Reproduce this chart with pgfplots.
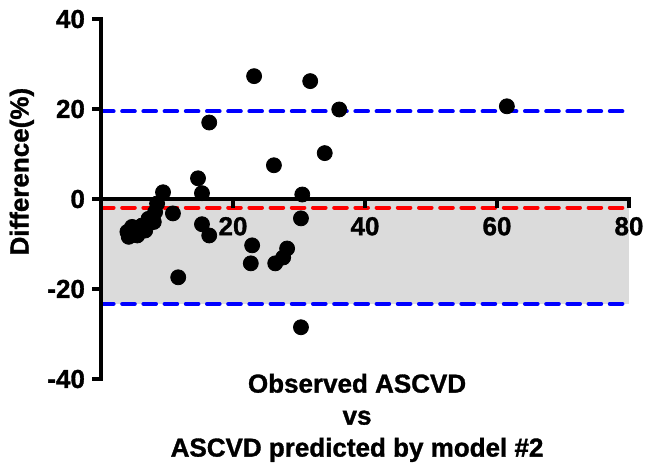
\documentclass[border=0pt]{standalone}
\usepackage{fontspec}
\setmainfont{Liberation Sans}[BoldFeatures={FakeBold=1.2}]
\usepackage{pgfplots}
\pgfplotsset{compat=1.18}
\pgfplotstableread{
x y
23.2 27.3
31.7 26.2
36.1 19.9
61.5 20.6
16.4 17.0
33.9 10.2
26.2 7.5
14.7 4.6
15.3 1.3
9.4 1.5
30.5 1.0
30.3 -4.3
10.9 -3.2
15.3 -5.6
16.4 -8.1
22.9 -10.3
22.7 -14.3
26.4 -14.3
27.6 -13.0
28.2 -11.0
11.7 -17.4
30.3 -28.5
8.5 -1.0
8.2 -2.9
7.2 -4.4
6.2 -5.9
4.7 -6.2
4.0 -7.3
4.2 -8.4
5.5 -8.1
6.7 -7.0
8.0 -5.1
}\pts
\begin{document}
\begin{tikzpicture}
\begin{axis}[
  at={(50.5pt,44pt)}, anchor=south west,
  scale only axis, width=264pt, height=180pt,
  xmin=0, xmax=80, ymin=-40, ymax=40,
  axis x line=middle, axis y line=left,
  axis on top,
  axis line style={-, line width=2pt, line cap=rect},
  every tick/.style={black, line width=2pt},
  xtick={20,40,60,80}, ytick={-40,-20,0,20,40},
  xtick align=outside, ytick align=outside,
  major tick length=4.5pt,
  /pgf/number format/assume math mode=true,
  tick label style={font=\fontsize{13}{15}\selectfont\bfseries},
  xticklabel style={yshift=-1pt},
  clip=false,
  xlabel={Observed ASCVD\\vs\\ASCVD predicted by model \#2},
  xlabel style={at={(axis description cs:0.485,-0.108)}, anchor=center, align=center, font=\fontsize{13}{16}\selectfont\bfseries},
  ylabel={Difference(\%)},
  ylabel style={at={(axis description cs:-0.15,0.576)}, anchor=center, font=\fontsize{13}{15}\selectfont\bfseries},
]
\addplot[draw=none, fill=black!14] coordinates {(0,0) (80,0) (80,-23.3) (0,-23.3) (0,0)};
\addplot[blue, line width=2pt, line cap=round, dash pattern=on 6.3pt off 4.3pt] coordinates {(0,19.5) (80,19.5)};
\addplot[blue, line width=2pt, line cap=round, dash pattern=on 6.3pt off 4.3pt] coordinates {(0,-23.3) (80,-23.3)};
\addplot[red, line width=2pt, line cap=round, dash pattern=on 6.3pt off 4.3pt] coordinates {(0,-1.9) (80,-1.9)};
\addplot[only marks, mark=*, mark size=3.75pt, black] table[x=x, y=y] {\pts};
\end{axis}
\pgfresetboundingbox
\path[use as bounding box] (0,0) rectangle (325pt,233.5pt);
\end{tikzpicture}
\end{document}
